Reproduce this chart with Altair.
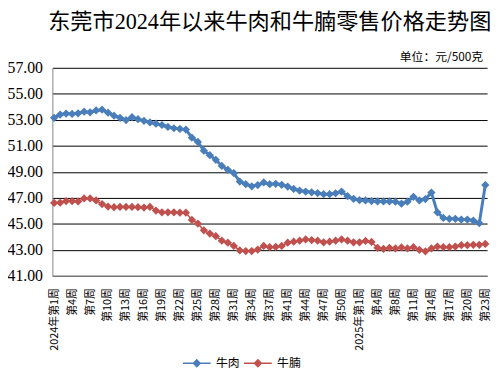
import altair as alt
import pandas as pd

# ---- data -------------------------------------------------------------
weeks = [
    "2024年第1周", "2024年第2周", "2024年第3周", "2024年第4周", "2024年第5周", "2024年第6周",
    "2024年第7周", "2024年第8周", "2024年第9周", "2024年第10周", "2024年第11周", "2024年第12周",
    "2024年第13周", "2024年第14周", "2024年第15周", "2024年第16周", "2024年第17周", "2024年第18周",
    "2024年第19周", "2024年第20周", "2024年第21周", "2024年第22周", "2024年第23周", "2024年第24周",
    "2024年第25周", "2024年第26周", "2024年第27周", "2024年第28周", "2024年第29周", "2024年第30周",
    "2024年第31周", "2024年第32周", "2024年第33周", "2024年第34周", "2024年第35周", "2024年第36周",
    "2024年第37周", "2024年第38周", "2024年第39周", "2024年第41周", "2024年第42周", "2024年第43周",
    "2024年第44周", "2024年第45周", "2024年第46周", "2024年第47周", "2024年第48周", "2024年第49周",
    "2024年第50周", "2024年第51周", "2024年第52周",
    "2025年第1周", "2025年第2周", "2025年第3周", "2025年第4周", "2025年第5周", "2025年第6周",
    "2025年第8周", "2025年第9周", "2025年第10周", "2025年第11周", "2025年第12周", "2025年第13周",
    "2025年第14周", "2025年第15周", "2025年第16周", "2025年第17周", "2025年第18周", "2025年第19周",
    "2025年第20周", "2025年第21周", "2025年第22周", "2025年第23周",
]

beef = [
    53.15, 53.40, 53.48, 53.45, 53.50, 53.62, 53.58, 53.72, 53.78, 53.55,
    53.32, 53.15, 52.98, 53.20, 53.05, 52.92, 52.80, 52.70, 52.60, 52.45,
    52.35, 52.30, 52.25, 51.62, 51.30, 50.62, 50.28, 49.92, 49.45, 49.15,
    48.90, 48.25, 48.05, 47.88, 47.98, 48.18, 48.05, 48.08, 48.00, 47.86,
    47.68, 47.55, 47.48, 47.42, 47.36, 47.28, 47.28, 47.35, 47.48, 47.12,
    46.92, 46.82, 46.80, 46.75, 46.72, 46.72, 46.72, 46.70, 46.55, 46.70,
    47.08, 46.80, 46.90, 47.40, 45.88, 45.45, 45.38, 45.38, 45.33, 45.33,
    45.25, 45.05, 47.98,
]

brisket = [
    46.60, 46.62, 46.75, 46.75, 46.72, 46.95, 46.95, 46.80, 46.52, 46.33,
    46.28, 46.30, 46.30, 46.30, 46.28, 46.25, 46.30, 46.02, 45.88, 45.88,
    45.88, 45.85, 45.85, 45.30, 45.02, 44.50, 44.25, 44.05, 43.70, 43.55,
    43.30, 42.95, 42.90, 42.90, 43.02, 43.30, 43.20, 43.22, 43.30, 43.55,
    43.62, 43.70, 43.80, 43.75, 43.70, 43.58, 43.62, 43.70, 43.80, 43.70,
    43.58, 43.58, 43.68, 43.60, 43.15, 43.08, 43.15, 43.10, 43.18, 43.10,
    43.20, 43.00, 42.88, 43.10, 43.25, 43.20, 43.20, 43.25, 43.35, 43.35,
    43.38, 43.38, 43.45,
]

series_names = ["牛肉", "牛腩"]
y_ticks = [41, 43, 45, 47, 49, 51, 53, 55, 57]
shown_weeks = weeks[::3]
title_text = "东莞市2024年以来牛肉和牛腩零售价格走势图"
unit_text = ["单位：元/500克"]

marker_colors = ["#4A7EBB", "#C0504D"]

rows = []
for w, b, r in zip(weeks, beef, brisket):
    rows.append({"week": w, "series": series_names[0], "price": b})
    rows.append({"week": w, "series": series_names[1], "price": r})
df = pd.DataFrame(rows)

CJK = "Noto Sans CJK SC"

x_enc = alt.X(
    "week:N",
    sort=weeks,
    scale=alt.Scale(type="point", padding=0.3),
    axis=alt.Axis(
        title=None,
        values=shown_weeks,
        labelAngle=270,
        labelExpr="indexof(datum.label, '第1周') == 5 ? datum.label : slice(datum.label, 5)",
        labelFont=CJK,
        labelFontSize=11,
        labelColor="#000000",
        labelPadding=12,
        ticks=False,
        grid=False,
        domainColor="#868686",
        domainWidth=1,
        labelOverlap=False,
    ),
)
y_enc = alt.Y(
    "price:Q",
    scale=alt.Scale(domain=[41, 57], nice=False, zero=False),
    axis=alt.Axis(
        title=None,
        values=y_ticks,
        format=".2f",
        labelFont="Liberation Serif",
        labelFontSize=16,
        labelColor="#000000",
        labelPadding=10,
        ticks=False,
        grid=True,
        gridColor="#000000",
        gridWidth=1,
        domainColor="#868686",
        domainWidth=1,
    ),
)

base = alt.Chart(df).encode(x=x_enc, y=y_enc)

legend_path = "M-2.2,-0.12L2.2,-0.12L2.2,0.12L-2.2,0.12Z M0,-0.7L0.7,0L0,0.7L-0.7,0Z"

color_enc = alt.Color(
    "series:N",
    scale=alt.Scale(domain=series_names, range=marker_colors),
    legend=alt.Legend(
        title=None,
        orient="none",
        legendX=140,
        legendY=293,
        direction="horizontal",
        symbolType=legend_path,
        symbolSize=164,
        symbolStrokeWidth=0,
        labelFont=CJK,
        labelFontSize=12,
        labelColor="#000000",
        labelOffset=13,
        columnPadding=3,
    ),
)

beef_line = base.transform_filter(alt.datum.series == series_names[0]).mark_line(strokeWidth=3).encode(color=color_enc)
brisket_line = base.transform_filter(alt.datum.series == series_names[1]).mark_line(strokeWidth=1.5).encode(color=color_enc)
points = base.mark_point(shape="diamond", filled=True, size=70, opacity=1).encode(color=color_enc)

unit = alt.Chart(pd.DataFrame({"t": unit_text})).mark_text(
    align="right", baseline="middle", font=CJK, fontSize=12, color="#000000"
).encode(x=alt.value(437), y=alt.value(-11), text="t:N")

chart = alt.layer(beef_line, brisket_line, points, unit).properties(
    width=441,
    height=211,
    padding={"left": 45, "top": 58, "right": 6, "bottom": 100},
    autosize=alt.AutoSizeParams(type="none"),
    title=alt.TitleParams(
        text=title_text,
        font="Liberation Serif, Noto Sans CJK SC",
        fontSize=22.5,
        fontWeight="normal",
        color="#000000",
        anchor="middle",
        offset=18,
    ),
    background="#FFFFFF",
).configure_view(stroke=None)

chart.save("out.html", embed_options={"renderer": "svg", "actions": False})
